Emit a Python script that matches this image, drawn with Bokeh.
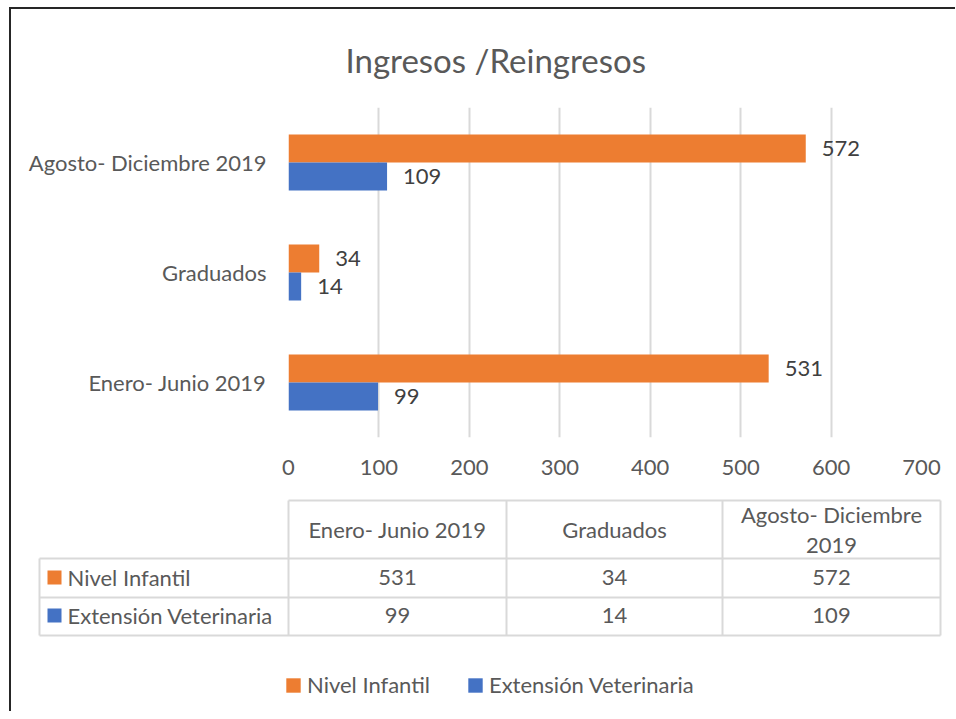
from bokeh.plotting import figure
from bokeh.layouts import column
from bokeh.models import ColumnDataSource, FactorRange, Range1d, FixedTicker, Legend, LegendItem
from bokeh.transform import dodge
from bokeh.core.properties import value
from bokeh.embed import file_html
from bokeh.resources import INLINE

# ---------------- data ----------------
title_text = "Ingresos /Reingresos"
categories = ["Enero- Junio 2019", "Graduados", "Agosto- Diciembre 2019"]
series_names = ["Nivel Infantil", "Extensión Veterinaria"]
nivel_infantil = [531, 34, 572]
extension_veterinaria = [99, 14, 109]
x_ticks = [0, 100, 200, 300, 400, 500, 600, 700]

# ---------------- style ----------------
ORANGE = "#ED7D31"
BLUE = "#4472C4"
FONT = "Lato"
FS = "22px"
GREY = "#595959"
DARK = "#404040"
LINE = "#D9D9D9"
colors = [ORANGE, BLUE]

X0, Y0 = 11, 9          # page position of the content (inside the border)
W = 944
TOP_H = 478
BOT_H = 711 - (Y0 + TOP_H)
FL, FT, FW, FH = 288 - X0, 107 - Y0, 633, 330

src = ColumnDataSource(dict(
    cat=categories,
    s0=nivel_infantil,
    s1=extension_veterinaria,
    l0=[str(v) for v in nivel_infantil],
    l1=[str(v) for v in extension_veterinaria],
))

p = figure(width=W, height=TOP_H,
           y_range=FactorRange(factors=categories, range_padding=0),
           x_range=Range1d(0, 700),
           toolbar_location=None, output_backend="svg",
           min_border_left=FL, min_border_right=W - FL - FW,
           min_border_top=FT, min_border_bottom=TOP_H - FT - FH)
p.frame_align = False

p.title.text = title_text
p.title.align = "left"
p.title.offset = 57
p.title.standoff = 56
p.title.text_font = FONT
p.title.text_font_size = "33px"
p.title.text_font_style = "normal"
p.title.text_color = GREY

offsets = [0.128, -0.128]
for i, off in enumerate(offsets):
    p.hbar(y=dodge("cat", off, range=p.y_range), left=0, right=f"s{i}", height=0.255,
           source=src, fill_color=colors[i], line_color=None)
    p.text(x=f"s{i}", y=dodge("cat", off, range=p.y_range), text=f"l{i}", source=src,
           x_offset=16, text_baseline="middle", text_align="left",
           text_font=value(FONT), text_font_size=FS, text_color=DARK)

p.outline_line_color = None
p.ygrid.grid_line_color = None
p.xgrid.ticker = FixedTicker(ticks=x_ticks)
p.xgrid.grid_line_color = LINE
p.xgrid.grid_line_width = 2
p.xaxis.ticker = FixedTicker(ticks=x_ticks)
for ax in (p.xaxis, p.yaxis):
    ax.axis_line_color = None
    ax.major_tick_line_color = None
    ax.minor_tick_line_color = None
    ax.major_tick_out = 0
    ax.major_tick_in = 0
    ax.major_label_text_font = FONT
    ax.major_label_text_font_size = FS
    ax.major_label_text_color = GREY
p.xaxis.major_label_standoff = 22
p.yaxis.major_label_standoff = 22

# ---------------- data table + legend ----------------
q = figure(width=W, height=BOT_H, x_range=Range1d(X0, X0 + W), y_range=Range1d(711, Y0 + TOP_H),
           toolbar_location=None, output_backend="svg", min_border=0)
q.frame_align = False
q.axis.visible = False
q.grid.grid_line_color = None
q.outline_line_color = None

col_edges = [288, 506, 722, 940]
label_left = 39
row_edges = [500, 558, 597, 635]
col_centers = [(col_edges[i] + col_edges[i + 1]) / 2 for i in range(3)]
row_centers = [577, 615]

# grid lines of the table
hx0 = [col_edges[0], label_left, label_left, label_left]
hx1 = [col_edges[-1]] * 4
q.segment(x0=hx0, y0=row_edges, x1=hx1, y1=row_edges, line_color=LINE, line_width=2)
vx = [label_left] + col_edges
vy0 = [row_edges[1]] + [row_edges[0]] * 4
vy1 = [row_edges[-1]] * 5
q.segment(x0=vx, y0=vy0, x1=vx, y1=vy1, line_color=LINE, line_width=2)


def wrap(s):
    if len(s) > 18:
        k = s.rfind(" ")
        return s[:k] + "\n" + s[k + 1:]
    return s


q.text(x=col_centers, y=[529] * 3, text=[wrap(c) for c in categories],
       text_align="center", text_baseline="middle", text_line_height=1.1,
       text_font=value(FONT), text_font_size=FS, text_color=GREY)

series_vals = [nivel_infantil, extension_veterinaria]
legend_items = []
for i, name in enumerate(series_names):
    r = q.rect(x=[54], y=[row_centers[i]], width=14, height=14,
               width_units="screen", height_units="screen",
               fill_color=colors[i], line_color=None)
    legend_items.append(LegendItem(label=name, renderers=[r]))
    q.text(x=[67], y=[row_centers[i]], text=[name], text_align="left", text_baseline="middle",
           text_font=value(FONT), text_font_size=FS, text_color=GREY)
    q.text(x=col_centers, y=[row_centers[i]] * 3, text=[str(v) for v in series_vals[i]],
           text_align="center", text_baseline="middle",
           text_font=value(FONT), text_font_size=FS, text_color=GREY)

legend = Legend(items=legend_items, orientation="horizontal", location=(284 - X0, 13),
                glyph_width=18, glyph_height=18, label_standoff=5, spacing=36,
                padding=0, margin=0, border_line_color=None, background_fill_alpha=0,
                label_text_font=FONT, label_text_font_size=FS, label_text_color=GREY)
q.add_layout(legend)

layout = column(p, q, styles={"border-top": "2px solid #262626",
                              "border-left": "2px solid #262626",
                              "margin-left": "9px", "margin-top": "7px"})

open("out.html", "w").write(file_html(layout, INLINE))
